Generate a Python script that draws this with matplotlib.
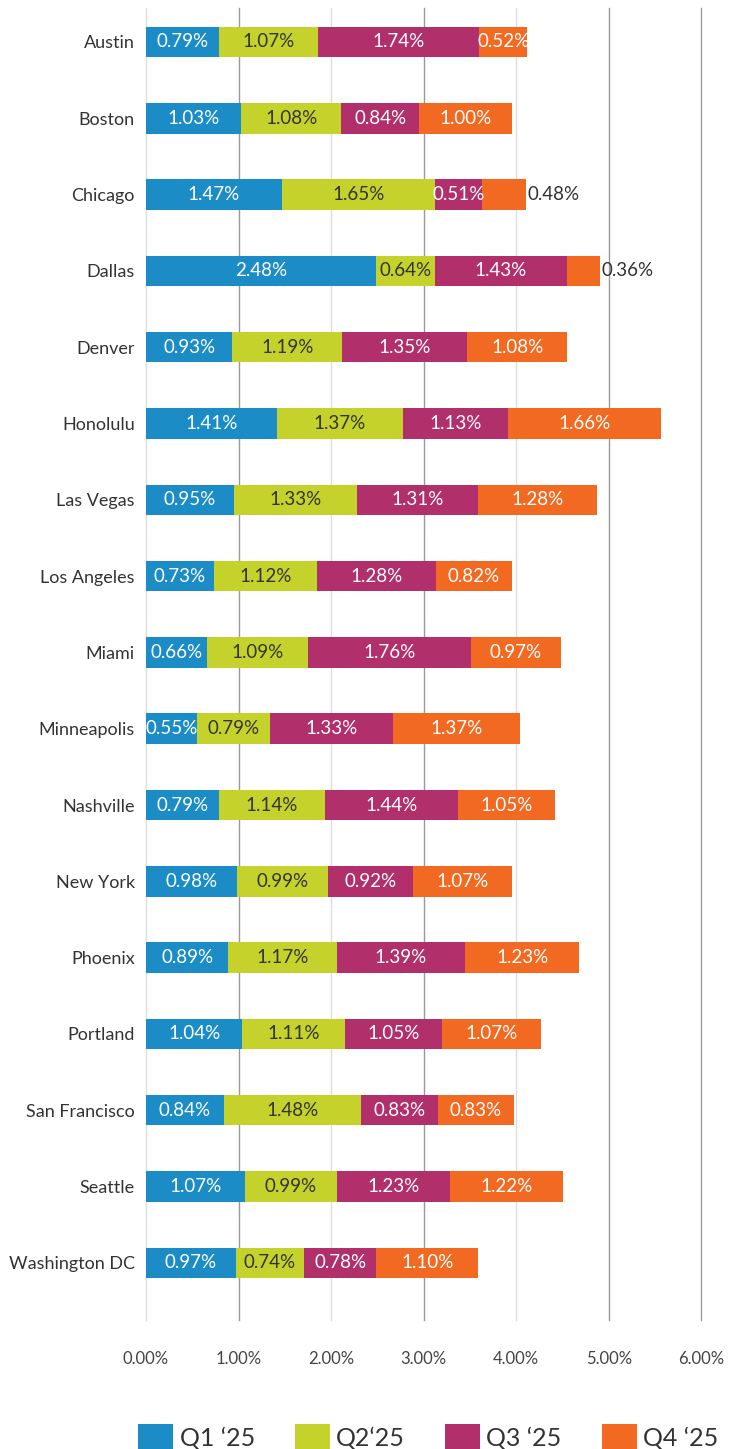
import numpy as np
import matplotlib.pyplot as plt
from matplotlib.patches import Patch

plt.rcParams['font.family'] = ['Lato', 'DejaVu Sans']

cities = ["Austin", "Boston", "Chicago", "Dallas", "Denver", "Honolulu", "Las Vegas",
          "Los Angeles", "Miami", "Minneapolis", "Nashville", "New York", "Phoenix",
          "Portland", "San Francisco", "Seattle", "Washington DC"]
q1 = [0.79, 1.03, 1.47, 2.48, 0.93, 1.41, 0.95, 0.73, 0.66, 0.55, 0.79, 0.98, 0.89, 1.04, 0.84, 1.07, 0.97]
q2 = [1.07, 1.08, 1.65, 0.64, 1.19, 1.37, 1.33, 1.12, 1.09, 0.79, 1.14, 0.99, 1.17, 1.11, 1.48, 0.99, 0.74]
q3 = [1.74, 0.84, 0.51, 1.43, 1.35, 1.13, 1.31, 1.28, 1.76, 1.33, 1.44, 0.92, 1.39, 1.05, 0.83, 1.23, 0.78]
q4 = [0.52, 1.00, 0.48, 0.36, 1.08, 1.66, 1.28, 0.82, 0.97, 1.37, 1.05, 1.07, 1.23, 1.07, 0.83, 1.22, 1.10]
series = [q1, q2, q3, q4]
legend_labels = ["Q1 \u201825", "Q2\u201825", "Q3 \u201825", "Q4 \u201825"]
colors = ["#1b8cc6", "#c6d22c", "#b12f6b", "#f26a21"]
text_colors = ["white", "#333333", "white", "white"]
ticks = [0, 1, 2, 3, 4, 5, 6]

fig = plt.figure(figsize=(7.32, 14.49), dpi=100)
ax = fig.add_axes([0.1995, 0.089, 0.7585, 0.9055])

y = np.arange(len(cities))
left = np.zeros(len(cities))
for vals, col, tcol in zip(series, colors, text_colors):
    vals = np.array(vals)
    ax.barh(y, vals, left=left, height=0.4, color=col, zorder=3)
    for yi, l, v in zip(y, left, vals):
        # tiny segments get their label outside the bar
        if v < 0.5:
            ax.text(l + v + 0.01, yi, f"{v:.2f}%", ha='left', va='center',
                    color="#333333", fontsize=13.5, zorder=4)
        else:
            ax.text(l + v / 2, yi, f"{v:.2f}%", ha='center', va='center',
                    color=tcol, fontsize=13.5, zorder=4)
    left = left + vals

for t in ticks:
    c = "#dddddd" if t in (0, 2, 4) else "#999999"
    ax.axvline(t, color=c, lw=1, zorder=1, clip_on=False)

ax.set_xlim(0, 6)
ax.set_ylim(16.75, -0.446)
ax.set_yticks(y)
ax.set_yticklabels(cities, fontsize=13, color="#333333")
ax.set_xticks(ticks)
ax.set_xticklabels([f"{t:.2f}%" for t in ticks], fontsize=12, color="#444444")
ax.tick_params(axis='both', length=0)
ax.tick_params(axis='x', pad=22)
ax.tick_params(axis='y', pad=8)
for s in ax.spines.values():
    s.set_visible(False)

handles = [Patch(facecolor=c) for c in colors]
fig.legend(handles, legend_labels, loc='center', bbox_to_anchor=(0.585, 0.008), ncol=4,
           frameon=False, fontsize=18, handlelength=1.4, handleheight=1.3,
           handletextpad=0.25, columnspacing=1.6, labelcolor="#333333")

fig.savefig("out.png", dpi=100)
